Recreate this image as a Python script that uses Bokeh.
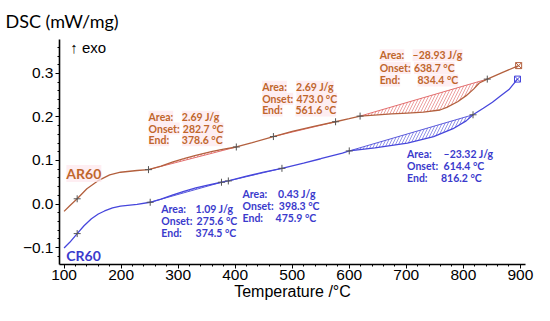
import numpy as np
from bokeh.plotting import figure
from bokeh.models import Range1d, FixedTicker, Label
from bokeh.embed import file_html
from bokeh.resources import INLINE

# ---------------- data ----------------
ar_T = [100, 110, 123, 140, 159, 180, 199, 228, 248, 270, 291, 310, 331, 360, 380, 402,
        430, 467, 500, 540, 576, 600, 619, 650, 674, 702, 730, 759, 771, 790, 805, 818,
        828, 842, 870, 897]
ar_v = [-0.017, -0.004, 0.012, 0.035, 0.053, 0.067, 0.073, 0.077, 0.079, 0.087, 0.097,
        0.104, 0.112, 0.121, 0.126, 0.131, 0.141, 0.155, 0.167, 0.179, 0.189, 0.196,
        0.202, 0.205, 0.207, 0.209, 0.211, 0.216, 0.222, 0.235, 0.249, 0.264, 0.278,
        0.287, 0.303, 0.318]

cr_T = [100, 110, 123, 135, 148, 160, 171, 185, 199, 228, 251, 270, 291, 310, 331, 350,
        376, 388, 420, 450, 482, 520, 550, 588, 600, 645, 702, 748, 782, 805, 817, 835,
        851, 865, 880, 895]
cr_v = [-0.101, -0.088, -0.068, -0.050, -0.034, -0.023, -0.016, -0.009, -0.005, -0.001,
        0.004, 0.011, 0.021, 0.029, 0.037, 0.043, 0.050, 0.053, 0.064, 0.073, 0.082,
        0.094, 0.104, 0.117, 0.122, 0.129, 0.140, 0.155, 0.173, 0.191, 0.205, 0.220,
        0.234, 0.248, 0.263, 0.287]

ar_marks = [123, 248, 402, 467, 576, 619, 842]
cr_marks = [123, 251, 376, 388, 482, 600, 817]

ar_peaks = [(248, 402), (467, 576), (619, 842)]
cr_peaks = [(251, 376), (388, 482), (600, 817)]

x_ticks = [100, 200, 300, 400, 500, 600, 700, 800, 900]
y_ticks = [-0.1, 0.0, 0.1, 0.2, 0.3]
y_tick_labels = ["\u22120.1", "0.0", "0.1", "0.2", "0.3"]

ar_texts = [["2.69 J/g", "282.7 \u00b0C", "378.6 \u00b0C"],
            ["2.69 J/g", "473.0 \u00b0C", "561.6 \u00b0C"],
            ["\u201328.93 J/g", "638.7 \u00b0C", "834.4 \u00b0C"]]
cr_texts = [["1.09 J/g", "275.6 \u00b0C", "374.5 \u00b0C"],
            ["0.43 J/g", "398.3 \u00b0C", "475.9 \u00b0C"],
            ["\u201323.32 J/g", "614.4 \u00b0C", "816.2 \u00b0C"]]
row_names = ["Area:", "Onset:", "End:"]

# ---------------- styling ----------------
BROWN = "#b3603e"
BROWN_TXT = "#c0662c"
BLUE = "#4646dc"
BLUE_TXT = "#3a3acc"

X0, X1 = 92, 909
Y0, Y1 = -0.139, 0.378
# reference frame (pixels) used to place annotations
RX, RY, RW, RH = 61, 40, 476, 238


def px(xr, yr):
    """reference pixel position -> data coordinates (for annotations)"""
    return X0 + (xr - RX) * (X1 - X0) / RW, Y1 - (yr - RY) * (Y1 - Y0) / RH


p = figure(width=534, height=305, output_backend="svg", toolbar_location=None,
           x_range=Range1d(X0, X1), y_range=Range1d(Y0, Y1),
           min_border_left=59, min_border_right=9, min_border_top=38, min_border_bottom=41)
p.outline_line_color = None
p.grid.visible = False
p.background_fill_color = "white"

p.title.text = "DSC (mW/mg)"
p.title.align = "left"
p.title.offset = -54
p.title.standoff = 15
p.title.text_font = "Lato"
p.title.text_font_style = "normal"
p.title.text_font_size = "18px"
p.title.text_color = "black"

for ax in (p.xaxis[0], p.yaxis[0]):
    ax.axis_line_width = 1.6
    ax.axis_line_color = "black"
    ax.major_tick_line_color = "black"
    ax.minor_tick_line_color = "black"
    ax.major_tick_out = 4
    ax.major_tick_in = 0
    ax.minor_tick_out = 2
    ax.minor_tick_in = 0
    ax.major_label_text_font = "Liberation Sans"
    ax.major_label_text_font_size = "15.5px"
    ax.major_label_text_color = "black"

p.xaxis.ticker = FixedTicker(ticks=x_ticks, minor_ticks=list(range(100, 901, 20)))
p.yaxis.ticker = FixedTicker(ticks=y_ticks,
                             minor_ticks=[round(v, 2) for v in np.arange(-0.12, 0.37, 0.02)])
p.yaxis.major_label_overrides = {t: l for t, l in zip(y_ticks, y_tick_labels)}
p.xaxis.major_label_standoff = 1
p.yaxis.major_label_standoff = 2
p.xaxis.axis_label = "Temperature /\u00b0C"
p.xaxis.axis_label_text_font = "Liberation Sans"
p.xaxis.axis_label_text_font_size = "16px"
p.xaxis.axis_label_text_font_style = "normal"
p.xaxis.axis_label_text_color = "black"
p.xaxis.axis_label_standoff = 0

ar_T_a, ar_v_a = np.array(ar_T, float), np.array(ar_v, float)
cr_T_a, cr_v_a = np.array(cr_T, float), np.array(cr_v, float)


def peak_patch(T, v, a, b):
    m = (T >= a) & (T <= b)
    va, vb = np.interp(a, T, v), np.interp(b, T, v)
    xs = list(T[m]) + [b, a]
    ys = list(v[m]) + [vb, va]
    return xs, ys


for (T, v, peaks, col) in ((ar_T_a, ar_v_a, ar_peaks, "#e06060"),
                           (cr_T_a, cr_v_a, cr_peaks, "#4a4ad8")):
    for a, b in peaks:
        xs, ys = peak_patch(T, v, a, b)
        p.patch(xs, ys, fill_alpha=0, line_alpha=0, hatch_pattern="/",
                hatch_color=col, hatch_scale=6, hatch_weight=0.7, hatch_alpha=0.85)
        p.line([a, b], [np.interp(a, T, v), np.interp(b, T, v)], line_color=col,
               line_width=1.0, line_alpha=0.9)

p.line(ar_T, ar_v, line_color=BROWN, line_width=1.3)
p.line(cr_T, cr_v, line_color=BLUE, line_width=1.3)

p.scatter(ar_marks, list(np.interp(ar_marks, ar_T_a, ar_v_a)), marker="cross",
          size=7, line_color="#555555", line_width=1)
p.scatter(cr_marks, list(np.interp(cr_marks, cr_T_a, cr_v_a)), marker="cross",
          size=7, line_color="#555555", line_width=1)
p.scatter([ar_T[-1]], [ar_v[-1]], marker="square_x", size=6, fill_alpha=0,
          line_color=BROWN, line_width=1)
p.scatter([cr_T[-1]], [cr_v[-1]], marker="square_x", size=6, fill_alpha=0,
          line_color=BLUE, line_width=1)

# annotation boxes: (label x, row ys, value xs) in reference pixels
ar_boxes = [(152, [121.7, 134.2, 146.7], [186, 187, 186]),
            (268, [90, 102.7, 115], [302.7, 303, 302]),
            (388, [56.7, 70.2, 83.3], [421.7, 423, 426.7])]
cr_boxes = [(165, [219.3, 231.8, 244.3], [200, 201, 200]),
            (248, [203.3, 216, 229], [284.3, 285, 281.7]),
            (416, [160.7, 173.3, 186], [453.3, 453.3, 450.7])]


def add_text(xr, yr, txt, color, size="10.5px", bg=None, font="Lato", style="bold",
             align="left"):
    x, y = px(xr, yr)
    kw = dict(x=x, y=y, text=txt, text_color=color, text_font=font,
              text_font_size=size, text_font_style=style, text_baseline="middle",
              text_align=align)
    if bg:
        kw.update(background_fill_color=bg, background_fill_alpha=0.75)
    p.add_layout(Label(**kw))


for (bx, ys, vxs), vals in zip(ar_boxes, ar_texts):
    for name, yv, vx, val in zip(row_names, ys, vxs, vals):
        add_text(bx, yv, name, BROWN_TXT, bg="#fde8ee")
        add_text(vx, yv, val, BROWN_TXT, bg="#fde8ee")
for (bx, ys, vxs), vals in zip(cr_boxes, cr_texts):
    for name, yv, vx, val in zip(row_names, ys, vxs, vals):
        add_text(bx, yv, name, BLUE_TXT)
        add_text(vx, yv, val, BLUE_TXT)

add_text(68, 181.7, "AR60", BROWN_TXT, size="14px", bg="#fde8ee")
add_text(68, 268.3, "CR60", BLUE_TXT, size="14px")
add_text(72, 48, "\u2191 exo", "black", size="15px", font="Liberation Sans", style="normal")

open("out.html", "w").write(file_html(p, INLINE))
